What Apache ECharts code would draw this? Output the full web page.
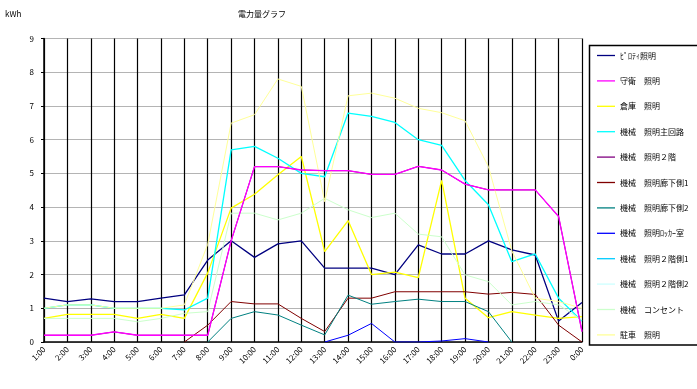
<!DOCTYPE html>
<html>
<head>
<meta charset="utf-8">
<script src="https://cdn.jsdelivr.net/npm/echarts@6/dist/echarts.min.js"></script>
<style>html,body{margin:0;padding:0;background:#fff}#c{width:697px;height:389px}</style>
</head>
<body>
<div id="c"></div>
<script>
var categories = ['1:00','2:00','3:00','4:00','5:00','6:00','7:00','8:00','9:00','10:00','11:00','12:00','13:00','14:00','15:00','16:00','17:00','18:00','19:00','20:00','21:00','22:00','23:00','0:00'];
var yTicks = [0,1,2,3,4,5,6,7,8,9];
var seriesNames = ['ﾋﾟﾛﾃｨ照明','守衛　照明','倉庫　照明','機械　照明主回路','機械　照明２階','機械　照明廊下側1','機械　照明廊下側2','機械　照明ﾛｯｶｰ室','機械　照明２階側1','機械　照明２階側2','機械　コンセント','駐車　照明'];
var seriesColors = ['#000080','#FF00FF','#FFFF00','#00FFFF','#800080','#800000','#008080','#0000FF','#00CCFF','#CCFFFF','#CCFFCC','#FFFF99'];
var _ = null;
var s1 = [1.3,1.2,1.28,1.2,1.2,1.3,1.4,2.43,3.0,2.51,2.91,3.0,2.19,2.19,2.19,2.0,2.88,2.61,2.61,3.0,2.73,2.58,0.62,1.17];
var s2 = [0.2,0.2,0.2,0.3,0.2,0.2,0.2,0.2,3.0,5.2,5.2,5.1,5.08,5.08,4.97,4.97,5.21,5.1,4.68,4.51,4.51,4.51,3.72,0.31];
var s3 = [0.7,0.82,0.82,0.82,0.7,0.82,0.7,2.05,3.97,4.38,4.96,5.5,2.68,3.6,2.0,2.07,1.91,4.79,1.3,0.72,0.9,0.8,0.7,0.75];
var s4 = [1.0,1.1,1.1,1.0,1.0,1.0,0.95,1.3,5.7,5.8,5.45,5.0,4.9,6.79,6.69,6.51,6.0,5.83,4.79,4.07,2.38,2.61,1.3,0.62];
var s5 = [0.2,0.2,0.2,0.3,0.2,0.2,0.2,0.2,3.0,5.2,5.2,5.1,5.08,5.08,4.97,4.97,5.21,5.1,4.68,4.51,4.51,4.51,3.72,0.31];
var s6 = [_,_,_,_,_,_,0,0.5,1.2,1.13,1.13,0.7,0.31,1.3,1.3,1.49,1.49,1.49,1.49,1.42,1.47,1.41,0.5,0.0];
var s7 = [_,_,_,_,_,_,_,0,0.7,0.9,0.8,0.5,0.21,1.39,1.12,1.2,1.27,1.2,1.2,0.9,0,_,_,_];
var s8 = [_,_,_,_,_,_,_,_,_,_,_,_,0,0.2,0.55,0,0,0.03,0.1,0,_,_,_,_];
var s9 = [_,_,_,_,_,_,_,_,_,_,_,_,_,_,_,_,_,_,_,_,_,_,_,_];
var s10 = [_,_,_,_,_,_,_,_,_,_,_,_,_,_,_,_,_,_,_,_,_,_,_,_];
var s11 = [0.7,0.7,0.7,0.7,0.6,0.7,0.85,0.9,3.82,3.82,3.62,3.82,4.26,3.92,3.69,3.82,3.2,3.12,1.99,1.79,1.1,1.2,1.1,0.65];
var s12 = [1.0,1.1,1.1,1.0,1.0,1.0,1.1,2.9,6.49,6.74,7.8,7.58,4.16,7.3,7.38,7.23,6.93,6.8,6.56,5.2,2.7,1.3,1.2,1.0];
var allData = [s1,s2,s3,s4,s5,s6,s7,s8,s9,s10,s11,s12];

var FONT = '"Noto Sans CJK JP", sans-serif';
var chart = echarts.init(document.getElementById('c'), null, {renderer: 'canvas'});
var series = allData.map(function (d, i) {
  return {
    name: seriesNames[i],
    type: 'line',
    data: d,
    symbol: 'none',
    connectNulls: false,
    animation: false,
    z: i === 1 ? 3 : 2,
    lineStyle: {color: seriesColors[i], width: (i === 0 || i === 1 || i === 2 || i === 3) ? 1.3 : 1},
    itemStyle: {color: seriesColors[i]}
  };
});
chart.setOption({
  animation: false,
  backgroundColor: '#fff',
  textStyle: {fontFamily: FONT},
  grid: {left: 44, right: 115, top: 38.5, bottom: 47, containLabel: false},
  xAxis: {
    type: 'category',
    data: categories,
    boundaryGap: false,
    axisLine: {show: true, lineStyle: {color: '#000', width: 1.5}},
    axisTick: {show: false},
    splitLine: {show: true, lineStyle: {color: '#000', width: 1.2}},
    axisLabel: {rotate: 45, interval: 0, fontSize: 8, color: '#000', margin: 6, fontFamily: FONT}
  },
  yAxis: {
    type: 'value',
    min: yTicks[0],
    max: yTicks[yTicks.length - 1],
    interval: 1,
    axisLine: {show: true, lineStyle: {color: '#000', width: 1.5}},
    axisTick: {show: true, length: 3, lineStyle: {color: '#000'}},
    splitLine: {show: true, lineStyle: {color: '#b4b4b4', width: 1}},
    axisLabel: {fontSize: 8, color: '#000', margin: 10, fontFamily: FONT}
  },
  legend: {
    orient: 'vertical',
    left: 597,
    top: 51.5,
    padding: 0,
    icon: 'rect',
    itemWidth: 18,
    itemHeight: 1.3,
    itemGap: 17.4,
    textStyle: {fontSize: 8, color: '#000', fontFamily: FONT},
    data: seriesNames
  },
  graphic: [
    {type: 'rect', shape: {x: 589.5, y: 45.5, width: 120, height: 299.5}, style: {fill: 'none', stroke: '#000', lineWidth: 1.5}, z: 0},
    {type: 'text', x: 262, y: 14, style: {text: '電力量グラフ', font: '8px ' + FONT, fill: '#000', textAlign: 'center', textVerticalAlign: 'middle'}},
    {type: 'text', x: 5, y: 14, style: {text: 'kWh', font: '8px ' + FONT, fill: '#000', textAlign: 'left', textVerticalAlign: 'middle'}}
  ],
  series: series
});
</script>
</body>
</html>
